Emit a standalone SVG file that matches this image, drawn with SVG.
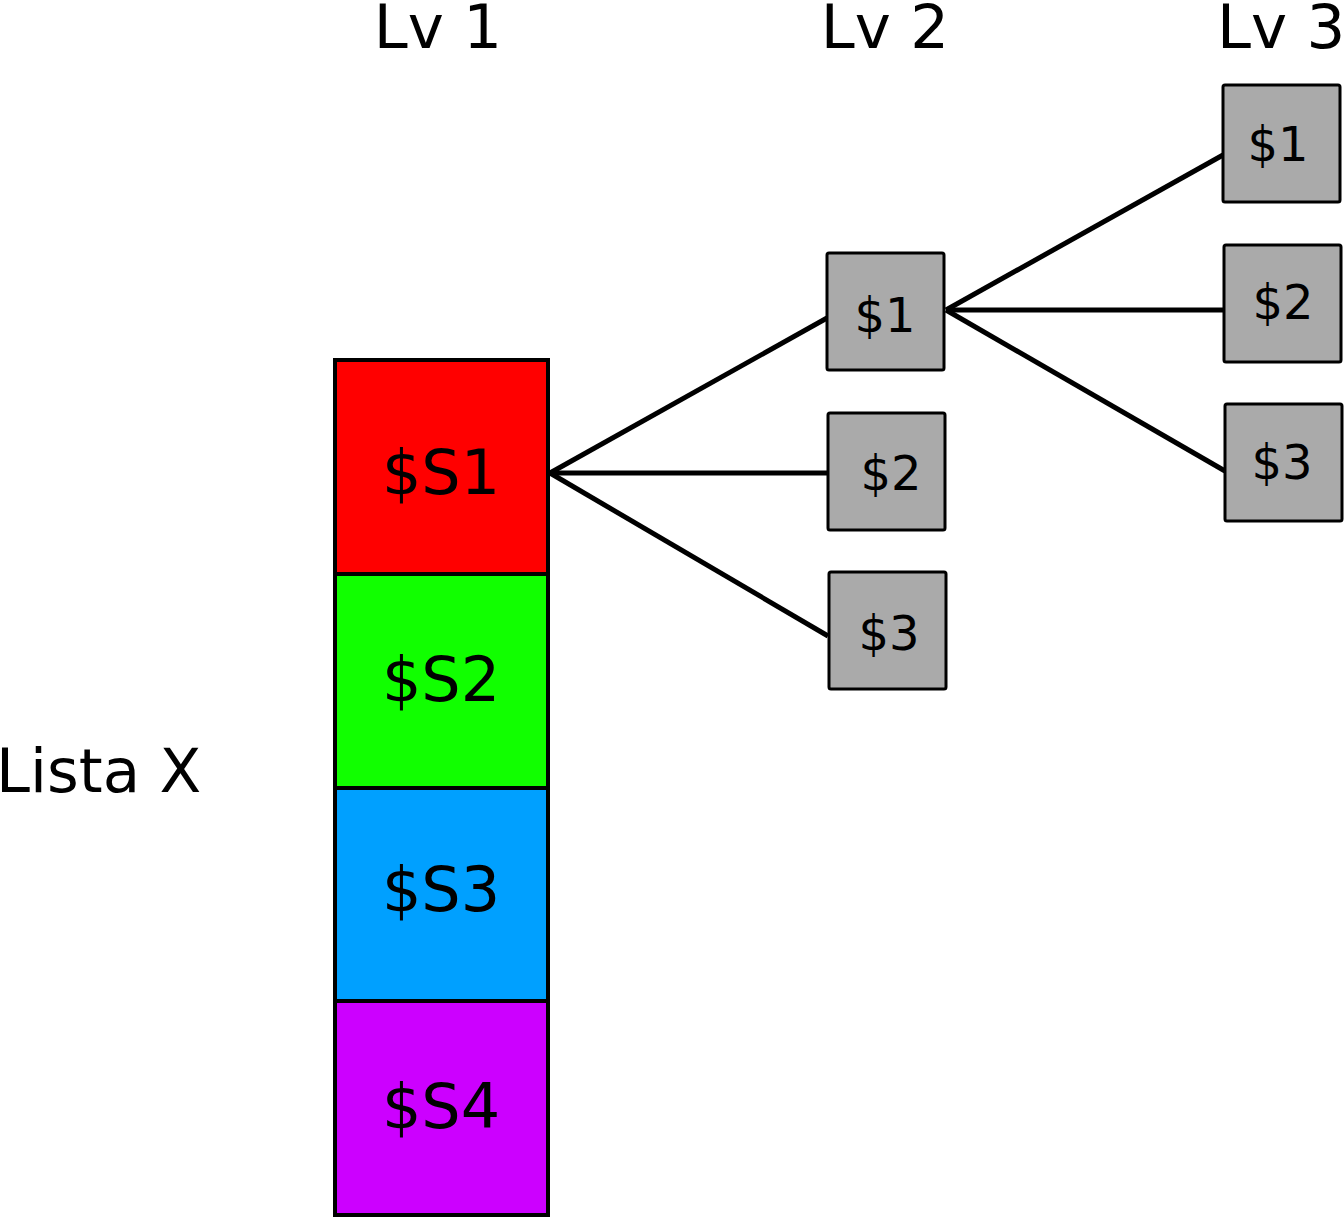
<svg xmlns="http://www.w3.org/2000/svg" width="1344" height="1218" viewBox="0 0 1344 1218">
<style>
text{font-family:"DejaVu Sans","Liberation Sans",sans-serif;fill:#000}
.big{stroke:#000;stroke-width:4}
.big-t{font-size:62px;text-anchor:middle}
.sm{fill:#aaaaaa;stroke:#000;stroke-width:3}
.sm-t{font-size:48px;text-anchor:middle}
.lv{font-size:61px}
.con line{stroke:#000;stroke-width:5}
</style>
<rect width="1344" height="1218" fill="#fff"/>
<g id="labels">
<text class="lv" x="438" y="48" text-anchor="middle">Lv 1</text>
<text class="lv" x="885" y="48" text-anchor="middle">Lv 2</text>
<text class="lv" x="1217" y="48">Lv 3</text>
<text class="lv" x="-4" y="792">Lista X</text>
</g>
<g id="connectors" class="con">
<line x1="550" y1="473" x2="827" y2="318"/>
<line x1="550" y1="473" x2="827" y2="473"/>
<line x1="550" y1="473" x2="828" y2="636"/>
<line x1="946" y1="310" x2="1223" y2="155"/>
<line x1="946" y1="310" x2="1224" y2="310"/>
<line x1="946" y1="310" x2="1225" y2="471"/>
</g>
<g id="s1"><rect class="big" x="335" y="360" width="213" height="214" fill="#ff0000"/><text class="big-t" x="441" y="494">$S1</text></g>
<g id="s2"><rect class="big" x="335" y="574" width="213" height="214" fill="#11ff00"/><text class="big-t" x="441" y="701">$S2</text></g>
<g id="s3"><rect class="big" x="335" y="788" width="213" height="213" fill="#00a0ff"/><text class="big-t" x="441" y="911">$S3</text></g>
<g id="s4"><rect class="big" x="335" y="1001" width="213" height="214" fill="#cc00ff"/><text class="big-t" x="441" y="1128">$S4</text></g>
<g id="l2n1"><rect class="sm" x="827" y="253" width="117" height="117" rx="2"/><text class="sm-t" x="885" y="332">$1</text></g>
<g id="l2n2"><rect class="sm" x="828" y="413" width="117" height="117" rx="2"/><text class="sm-t" x="891" y="490">$2</text></g>
<g id="l2n3"><rect class="sm" x="829" y="572" width="117" height="117" rx="2"/><text class="sm-t" x="889" y="650">$3</text></g>
<g id="l3n1"><rect class="sm" x="1223" y="85" width="117" height="117" rx="2"/><text class="sm-t" x="1278" y="161">$1</text></g>
<g id="l3n2"><rect class="sm" x="1224" y="245" width="117" height="117" rx="2"/><text class="sm-t" x="1283" y="319">$2</text></g>
<g id="l3n3"><rect class="sm" x="1225" y="404" width="117" height="117" rx="2"/><text class="sm-t" x="1282" y="479">$3</text></g>
</svg>
